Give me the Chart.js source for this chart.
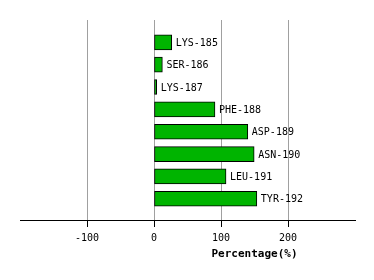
<!DOCTYPE html>
<html>
<head>
<meta charset="utf-8">
<script src="https://cdn.jsdelivr.net/npm/chart.js@4/dist/chart.umd.min.js"></script>
<style>
  html, body { margin: 0; padding: 0; background: #fff; }
</style>
</head>
<body>
<canvas id="bar1" width="374" height="280"></canvas>
<script>
var residues = ["LYS-185", "SER-186", "LYS-187", "PHE-188", "ASP-189", "ASN-190", "LEU-191", "TYR-192"];
var percentages = [26.5, 12.5, 4, 91, 140, 149.5, 107.5, 153.5];
var xTicks = [-100, 0, 100, 200];
var axisTitle = "Percentage(%)";

var monoFont = "'DejaVu Sans Mono', monospace";

// residue names written just past the end of each bar
var barLabels = {
  id: 'barLabels',
  afterDatasetsDraw: function (chart) {
    var ctx = chart.ctx;
    ctx.save();
    ctx.font = "10px " + monoFont;
    ctx.fillStyle = "#000";
    ctx.textAlign = "left";
    ctx.textBaseline = "middle";
    chart.getDatasetMeta(0).data.forEach(function (bar, i) {
      ctx.fillText(residues[i], bar.x + 4, bar.y + 1);
    });
    ctx.restore();
  }
};

// axis title sits over the right part of the axis, not the middle
var axisLabel = {
  id: 'axisLabel',
  afterDraw: function (chart) {
    var ctx = chart.ctx;
    var x = chart.scales.x;
    ctx.save();
    ctx.font = "bold 11px " + monoFont;
    ctx.fillStyle = "#000";
    ctx.textAlign = "center";
    ctx.textBaseline = "middle";
    ctx.fillText(axisTitle, x.getPixelForValue(150), 254);
    ctx.restore();
  }
};

var bar1e = document.getElementById("bar1");
var bar1 = new Chart(bar1e, {
  type: 'bar',
  data: {
    datasets: [{
      label: axisTitle,
      data: percentages.map(function (v, i) { return { x: v, y: i }; }),
      backgroundColor: '#00b400',
      borderColor: '#000',
      borderWidth: 1,
      borderSkipped: false,
      barThickness: 15
    }]
  },
  options: {
    indexAxis: 'y',
    responsive: false,
    animation: false,
    layout: { padding: { left: 20, right: 19, top: 20, bottom: 0 } },
    plugins: {
      legend: { display: false },
      tooltip: { enabled: false }
    },
    scales: {
      x: {
        type: 'linear',
        min: -200,
        max: 300,
        afterBuildTicks: function (scale) {
          scale.ticks = xTicks.map(function (v) { return { value: v }; });
        },
        afterFit: function (scale) { scale.height = 60; },
        grid: {
          color: '#a0a0a0',
          tickColor: '#000',
          tickLength: 7,
          lineWidth: 1
        },
        border: { display: true, color: '#000', width: 1 },
        ticks: {
          color: '#000',
          padding: 5,
          maxRotation: 0,
          font: { family: monoFont, size: 10 }
        }
      },
      y: {
        type: 'linear',
        display: false,
        offset: false,
        reverse: true,
        min: -1,
        max: 7.95
      }
    }
  },
  plugins: [barLabels, axisLabel]
});
</script>
</body>
</html>
